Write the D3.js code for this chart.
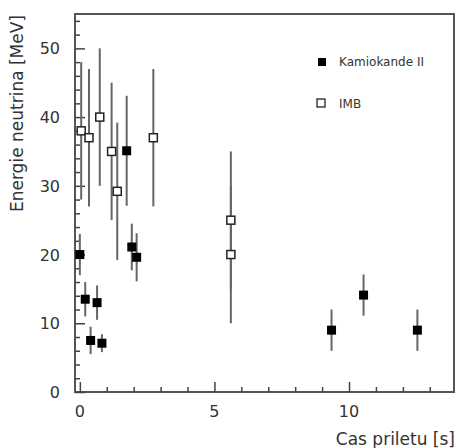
<!DOCTYPE html>
<html>
<head>
<meta charset="utf-8">
<script src="https://cdn.jsdelivr.net/npm/d3@7"></script>
<style>
  body { margin: 0; background: #fff; }
  svg { display: block; font-family: "DejaVu Sans", sans-serif; }
</style>
</head>
<body>
<svg id="chart" width="456" height="448"></svg>
<script>
// Kamiokande II (filled squares)
const kamTime   = [0, 0.2, 0.4, 0.64, 0.82, 1.74, 1.93, 2.11, 9.35, 10.54, 12.54];
const kamEnergy = [20, 13.5, 7.5, 13, 7.1, 35.1, 21.1, 19.6, 9, 14.1, 9];
const kamErr    = [3, 2.5, 2, 2.5, 1.3, 8, 3.4, 3.5, 3, 3, 3];

// IMB (open squares)
const imbTime   = [0.05, 0.34, 0.74, 1.18, 1.39, 2.73, 5.61, 5.61];
const imbEnergy = [38, 37, 40, 35, 29.2, 37, 25, 20];
const imbErr    = [10, 10, 10, 10, 10, 10, 10, 10];

const xMajor = [0, 5, 10];
const yMajor = [0, 10, 20, 30, 40, 50];

const svg = d3.select('#chart');
const m = {left: 75, right: 454, top: 14, bottom: 392};

const x = d3.scaleLinear().domain([-0.18, 13.9]).range([m.left, m.right]);
const y = d3.scaleLinear().domain([0, 55]).range([m.bottom, m.top]);

const ink = '#333';

// frame
svg.append('rect')
  .attr('x', m.left).attr('y', m.top)
  .attr('width', m.right - m.left).attr('height', m.bottom - m.top)
  .attr('fill', 'none').attr('stroke', '#555').attr('stroke-width', 2);

// x ticks (inward)
const xAxis = d3.axisTop(x)
  .tickValues(d3.range(0, 14, 1))
  .tickSize(5)
  .tickFormat('');
const gx = svg.append('g').attr('transform', `translate(0,${m.bottom})`).call(xAxis);
gx.select('.domain').remove();
gx.selectAll('.tick line')
  .attr('stroke', '#444').attr('stroke-width', 1.5)
  .attr('y2', d => xMajor.includes(d) ? -10 : -5);

svg.append('g').selectAll('text')
  .data(xMajor).enter().append('text')
  .attr('x', d => x(d)).attr('y', 417)
  .attr('text-anchor', 'middle')
  .attr('font-size', 16).attr('fill', ink)
  .text(d => d);

// y ticks (inward)
const yAxis = d3.axisRight(y)
  .tickValues(d3.range(0, 55, 2))
  .tickSize(5)
  .tickFormat('');
const gy = svg.append('g').attr('transform', `translate(${m.left},0)`).call(yAxis);
gy.select('.domain').remove();
gy.selectAll('.tick line')
  .attr('stroke', '#444').attr('stroke-width', 1.5)
  .attr('x2', d => yMajor.includes(d) ? 10 : 5);

svg.append('g').selectAll('text')
  .data(yMajor).enter().append('text')
  .attr('x', 60).attr('y', d => y(d) + 6)
  .attr('text-anchor', 'end')
  .attr('font-size', 16).attr('fill', ink)
  .text(d => d);

// axis titles
svg.append('text')
  .attr('x', 455).attr('y', 445)
  .attr('text-anchor', 'end')
  .attr('font-size', 17).attr('fill', ink)
  .text('Cas priletu [s]');

svg.append('text')
  .attr('transform', 'translate(23,15) rotate(-90)')
  .attr('text-anchor', 'end')
  .attr('font-size', 17).attr('fill', ink)
  .text('Energie neutrina [MeV]');

// data
const kam = kamTime.map((t, i) => ({t: t, e: kamEnergy[i], err: kamErr[i]}));
const imb = imbTime.map((t, i) => ({t: t, e: imbEnergy[i], err: imbErr[i]}));
const sq = 8;

function errBars(data) {
  svg.append('g').selectAll('line')
    .data(data).enter().append('line')
    .attr('x1', d => x(d.t)).attr('x2', d => x(d.t))
    .attr('y1', d => y(d.e + d.err)).attr('y2', d => y(Math.max(0, d.e - d.err)))
    .attr('stroke', '#666').attr('stroke-width', 2);
}
errBars(imb);
errBars(kam);

svg.append('g').selectAll('rect')
  .data(imb).enter().append('rect')
  .attr('x', d => x(d.t) - sq / 2).attr('y', d => y(d.e) - sq / 2)
  .attr('width', sq).attr('height', sq)
  .attr('fill', '#fff').attr('stroke', '#222').attr('stroke-width', 1.5);

svg.append('g').selectAll('rect')
  .data(kam).enter().append('rect')
  .attr('x', d => x(d.t) - sq / 2 - 0.5).attr('y', d => y(d.e) - sq / 2 - 0.5)
  .attr('width', sq + 1).attr('height', sq + 1)
  .attr('fill', '#000');

// legend
const legend = svg.append('g');
legend.append('rect')
  .attr('x', 318).attr('y', 58).attr('width', 8).attr('height', 8)
  .attr('fill', '#000');
legend.append('text')
  .attr('x', 339).attr('y', 66)
  .attr('font-size', 12).attr('fill', ink)
  .text('Kamiokande II');
legend.append('rect')
  .attr('x', 317).attr('y', 99).attr('width', 8).attr('height', 8)
  .attr('fill', '#fff').attr('stroke', '#222').attr('stroke-width', 1.3);
legend.append('text')
  .attr('x', 339).attr('y', 108)
  .attr('font-size', 12).attr('fill', ink)
  .text('IMB');
</script>
</body>
</html>
